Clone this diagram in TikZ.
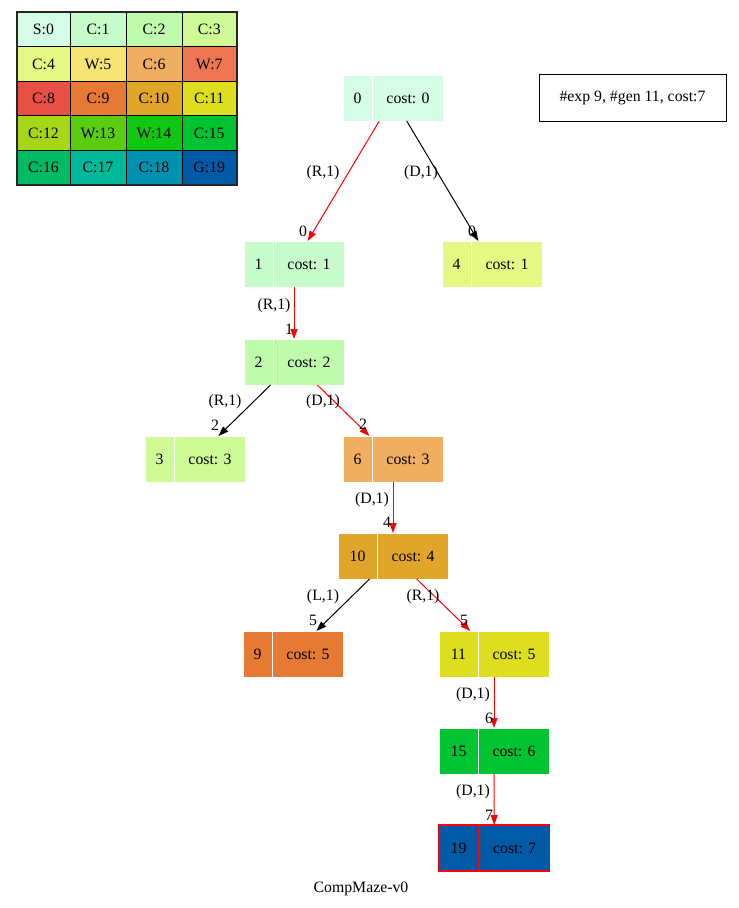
\documentclass[tikz,border=0pt]{standalone}
\usepackage{fontspec}
\setmainfont{Liberation Serif}
\usepackage{tikz}
\usetikzlibrary{positioning}
\usetikzlibrary{shapes.multipart}
\usetikzlibrary{arrows.meta}

\definecolor{cS0}{RGB}{213,252,230}
\definecolor{cC1}{RGB}{197,252,202}
\definecolor{cC2}{RGB}{192,250,172}
\definecolor{cC3}{RGB}{206,250,150}
\definecolor{cC4}{RGB}{230,248,132}
\definecolor{cW5}{RGB}{245,228,115}
\definecolor{cC6}{RGB}{240,175,96}
\definecolor{cW7}{RGB}{238,118,82}
\definecolor{cC8}{RGB}{232,80,70}
\definecolor{cC9}{RGB}{230,122,52}
\definecolor{cC10}{RGB}{225,165,42}
\definecolor{cC11}{RGB}{222,222,30}
\definecolor{cC12}{RGB}{165,215,22}
\definecolor{cW13}{RGB}{90,205,16}
\definecolor{cW14}{RGB}{16,200,16}
\definecolor{cC15}{RGB}{0,195,50}
\definecolor{cC16}{RGB}{0,185,100}
\definecolor{cC17}{RGB}{0,185,155}
\definecolor{cC18}{RGB}{0,145,175}
\definecolor{cG19}{RGB}{0,90,165}

\newcommand{\tcell}[2]{\parbox[c][46pt][c]{#1}{\centering #2}}

\begin{document}
\begin{tikzpicture}[x=1pt, y=-1pt, font=\fontsize{15.8}{19}\selectfont,
    tnode/.style={rectangle split, rectangle split horizontal, rectangle split parts=2,
        draw=white, line width=1pt, inner sep=0pt, outer sep=0pt, anchor=north west},
    lcell/.style={draw=black, line width=0.8pt, minimum width=56pt, minimum height=34.5pt,
        inner sep=0pt, outer sep=0pt},
    redge/.style={draw=red, line width=1pt, -{Triangle[length=10pt,width=7pt]}},
    bedge/.style={draw=black, line width=1pt, -{Triangle[length=10pt,width=7pt]}},
    elab/.style={inner sep=0pt}]

    \useasboundingbox (0,0) rectangle (739,908);

    % legend
    \node[lcell, fill=cS0, minimum width=53pt, anchor=north west] (l0) at (17,12.3) {S:0};
    \node[lcell, fill=cC1, right=0pt of l0] (l1) {C:1};
    \node[lcell, fill=cC2, right=0pt of l1] (l2) {C:2};
    \node[lcell, fill=cC3, minimum width=54.5pt, right=0pt of l2] (l3) {C:3};
    \node[lcell, fill=cC4, minimum width=53pt, below=0pt of l0] (l4) {C:4};
    \node[lcell, fill=cW5, right=0pt of l4] (l5) {W:5};
    \node[lcell, fill=cC6, right=0pt of l5] (l6) {C:6};
    \node[lcell, fill=cW7, minimum width=54.5pt, right=0pt of l6] (l7) {W:7};
    \node[lcell, fill=cC8, minimum width=53pt, below=0pt of l4] (l8) {C:8};
    \node[lcell, fill=cC9, right=0pt of l8] (l9) {C:9};
    \node[lcell, fill=cC10, right=0pt of l9] (l10) {C:10};
    \node[lcell, fill=cC11, minimum width=54.5pt, right=0pt of l10] (l11) {C:11};
    \node[lcell, fill=cC12, minimum width=53pt, below=0pt of l8] (l12) {C:12};
    \node[lcell, fill=cW13, right=0pt of l12] (l13) {W:13};
    \node[lcell, fill=cW14, right=0pt of l13] (l14) {W:14};
    \node[lcell, fill=cC15, minimum width=54.5pt, right=0pt of l14] (l15) {C:15};
    \node[lcell, fill=cC16, minimum width=53pt, below=0pt of l12] (l16) {C:16};
    \node[lcell, fill=cC17, right=0pt of l16] (l17) {C:17};
    \node[lcell, fill=cC18, right=0pt of l17] (l18) {C:18};
    \node[lcell, fill=cG19, minimum width=54.5pt, right=0pt of l18] (l19) {G:19};
    \draw[black!85, line width=2pt] (l0.north west) rectangle (l19.south east);

    % search tree
    \node[tnode, fill=cS0] (n0) at (343,75) {\tcell{29pt}{0}\nodepart{two}\tcell{70pt}{cost: 0}};
    \node[tnode, fill=cC1] (n1) at (244,241) {\tcell{29pt}{1}\nodepart{two}\tcell{70pt}{cost: 1}};
    \node[tnode, fill=cC4] (n4) at (442,241) {\tcell{29pt}{4}\nodepart{two}\tcell{70pt}{cost: 1}};
    \node[tnode, fill=cC2] (n2) at (244,339) {\tcell{29pt}{2}\nodepart{two}\tcell{70pt}{cost: 2}};
    \node[tnode, fill=cC3] (n3) at (145,436) {\tcell{29pt}{3}\nodepart{two}\tcell{70pt}{cost: 3}};
    \node[tnode, fill=cC6] (n6) at (343,436) {\tcell{29pt}{6}\nodepart{two}\tcell{70pt}{cost: 3}};
    \node[tnode, fill=cC10] (n10) at (338,533) {\tcell{39pt}{10}\nodepart{two}\tcell{70pt}{cost: 4}};
    \node[tnode, fill=cC9] (n9) at (243,631) {\tcell{29pt}{9}\nodepart{two}\tcell{70pt}{cost: 5}};
    \node[tnode, fill=cC11] (n11) at (439,631) {\tcell{39pt}{11}\nodepart{two}\tcell{70pt}{cost: 5}};
    \node[tnode, fill=cC15] (n15) at (439,728) {\tcell{39pt}{15}\nodepart{two}\tcell{70pt}{cost: 6}};
    \node[tnode, fill=cG19, draw=red, line width=1.6pt] (n19) at (439,825) {\tcell{39pt}{19}\nodepart{two}\tcell{70pt}{cost: 7}};

    \draw[redge] (n0) -- (n1);
    \draw[bedge] (n0) -- (n4);
    \draw[redge] (n1) -- (n2);
    \draw[bedge] (n2) -- (n3);
    \draw[redge] (n2) -- (n6);
    \draw[redge] (n6) -- (n10);
    \draw[bedge] (n10) -- (n9);
    \draw[redge] (n10) -- (n11);
    \draw[redge] (n11) -- (n15);
    \draw[redge] (n15) -- (n19);

    % edge labels
    \node[elab] (e01) at (323,173) {(R,1)};
    \node[elab] (h01) at (303,231) {0};
    \node[elab] (e04) at (421,173) {(D,1)};
    \node[elab] (h04) at (472,231) {0};
    \node[elab] (e12) at (274,306) {(R,1)};
    \node[elab] (h12) at (289,329) {1};
    \node[elab] (e23) at (225,402) {(R,1)};
    \node[elab] (h23) at (215,425) {2};
    \node[elab] (e26) at (323,402) {(D,1)};
    \node[elab] (h26) at (363,424) {2};
    \node[elab] (e610) at (372,500) {(D,1)};
    \node[elab] (h610) at (387,522) {4};
    \node[elab] (e109) at (323,597) {(L,1)};
    \node[elab] (h109) at (313,620) {5};
    \node[elab] (e1011) at (423,597) {(R,1)};
    \node[elab] (h1011) at (464,620) {5};
    \node[elab] (e1115) at (473,695) {(D,1)};
    \node[elab] (h1115) at (489,718) {6};
    \node[elab] (e1519) at (473,792) {(D,1)};
    \node[elab] (h1519) at (489,815) {7};

    % info and title
    \node[draw, line width=1pt, minimum width=187pt, minimum height=47pt, inner sep=0pt] (info) at (632.5,97.5) {\#exp 9, \#gen 11, cost:7};
    \node (title) at (361,889) {CompMaze-v0};
\end{tikzpicture}
\end{document}
